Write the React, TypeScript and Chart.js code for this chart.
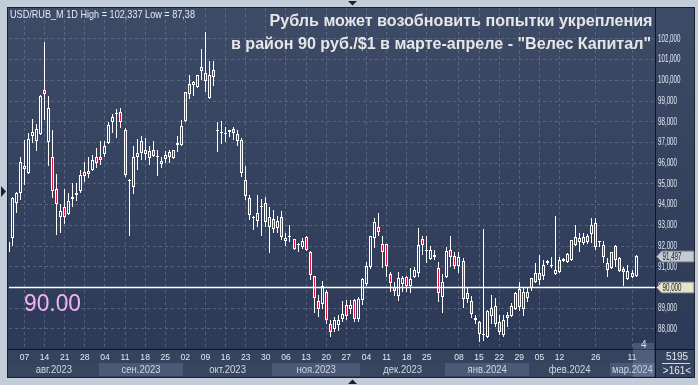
import React, { useEffect, useRef } from "react";
import { Chart, registerables } from "chart.js";

Chart.register(...registerables);

// ---- Data (USD/RUB_M, daily candles, 01.08.2023 – 12.03.2024) ----
const opens = [
  91.73, 92.37, 94.10, 94.55, 95.87, 95.52, 97.29, 97.05, 97.42, 99.55,
  97.00, 96.32, 94.74, 93.42, 93.87, 93.53, 94.26, 94.48, 94.68, 95.55,
  95.48, 95.65, 96.32, 96.32, 96.45, 96.97, 97.97, 98.37, 98.47, 97.61,
  95.15, 94.87, 96.29, 97.08, 96.65, 96.60, 96.65, 96.32, 95.97, 96.40,
  96.52, 96.24, 96.87, 96.87, 98.02, 99.82, 99.79, 99.66, 100.44, 100.35,
  99.15, 100.52, 97.56, 97.45, 97.42, 97.52, 97.66, 97.42, 97.13, 95.19,
  94.34, 93.34, 93.23, 93.87, 94.10, 92.94, 93.29, 92.85, 93.39, 92.26,
  92.42, 92.32, 92.06, 91.97, 92.45, 91.73, 90.55, 89.33, 89.22, 89.79,
  88.24, 88.00, 88.20, 88.46, 89.17, 88.98, 89.41, 88.46, 89.41, 90.15,
  91.00, 92.39, 92.91, 92.11, 92.11, 90.65, 90.00, 89.59, 90.16, 90.52,
  90.08, 90.49, 90.72, 92.36, 91.77, 91.37, 91.48, 90.92, 89.52, 90.52,
  91.81, 91.52, 91.05, 91.27, 89.71, 89.34, 88.53, 88.35, 87.69, 87.61,
  88.63, 89.10, 88.31, 87.69, 88.66, 88.63, 88.95, 89.95, 88.98, 89.47,
  89.98, 90.27, 90.68, 90.56, 91.16, 91.03, 90.63, 90.76, 91.27, 91.24,
  91.35, 92.05, 92.21, 92.16, 92.18, 92.56, 93.13, 92.21, 92.05, 91.19,
  90.92, 92.00, 91.40, 90.87, 90.39, 90.52, 90.56,
];
const highs = [
  92.30, 94.35, 94.63, 96.32, 97.13, 97.45, 98.15, 97.90, 99.30, 101.84,
  99.26, 97.61, 95.48, 94.02, 94.74, 94.55, 95.03, 95.03, 95.65, 96.08,
  96.32, 96.40, 96.73, 97.05, 97.05, 98.00, 98.37, 98.61, 98.66, 97.69,
  95.23, 96.84, 97.16, 97.32, 97.21, 96.81, 97.05, 96.65, 96.32, 96.60,
  96.65, 96.65, 97.32, 98.10, 99.44, 100.27, 99.98, 100.27, 101.52, 102.34,
  100.92, 100.92, 97.97, 98.02, 97.77, 97.61, 97.77, 97.61, 97.21, 95.84,
  94.47, 93.45, 94.44, 94.26, 94.39, 93.90, 93.74, 93.45, 93.71, 92.65,
  93.00, 92.36, 92.16, 92.37, 92.48, 91.77, 90.57, 89.63, 90.31, 89.87,
  88.41, 88.57, 88.65, 89.33, 89.38, 89.38, 89.46, 89.54, 90.44, 91.25,
  92.50, 93.37, 93.61, 92.50, 92.11, 90.76, 90.28, 90.76, 90.57, 90.57,
  90.93, 91.01, 92.85, 92.47, 92.50, 92.00, 91.81, 91.24, 90.63, 91.97,
  92.48, 91.73, 91.73, 91.40, 90.03, 89.58, 88.66, 88.39, 92.81, 88.90,
  89.66, 89.47, 88.68, 88.68, 88.82, 89.23, 89.79, 90.27, 90.03, 90.00,
  90.48, 91.16, 91.56, 91.32, 91.35, 91.48, 93.45, 91.48, 91.43, 91.68,
  92.29, 93.02, 92.61, 92.64, 92.56, 93.34, 93.34, 92.26, 92.24, 91.40,
  91.69, 92.05, 91.45, 90.97, 91.08, 90.84, 91.56,
];
const lows = [
  91.60, 92.00, 93.61, 94.23, 94.95, 95.52, 96.97, 96.60, 97.37, 98.10,
  95.84, 94.31, 92.53, 92.65, 93.06, 93.50, 93.90, 94.15, 94.55, 95.11,
  95.27, 95.60, 95.76, 95.92, 96.32, 96.94, 97.45, 97.21, 97.69, 95.35,
  92.48, 94.50, 95.68, 96.16, 96.16, 95.89, 96.29, 95.40, 95.76, 96.00,
  96.00, 96.24, 96.56, 96.81, 97.97, 99.10, 99.23, 99.63, 100.03, 99.42,
  99.15, 99.71, 96.52, 96.94, 97.00, 97.26, 97.13, 96.81, 95.32, 94.23,
  93.27, 92.77, 92.90, 92.48, 92.94, 91.65, 92.61, 92.61, 92.29, 92.00,
  92.18, 91.81, 91.73, 91.87, 91.78, 90.36, 88.76, 88.57, 88.98, 88.24,
  87.63, 87.87, 87.89, 88.33, 88.41, 88.73, 88.33, 88.33, 89.14, 90.07,
  90.89, 91.90, 92.47, 90.93, 90.49, 89.79, 89.58, 89.33, 89.79, 89.79,
  89.74, 90.44, 90.52, 91.58, 91.17, 91.32, 91.32, 89.31, 88.79, 90.52,
  91.00, 90.87, 90.68, 89.03, 89.23, 88.53, 88.26, 87.38, 87.40, 87.61,
  88.26, 88.10, 87.69, 87.60, 88.10, 88.58, 88.90, 88.87, 88.61, 89.31,
  89.85, 90.27, 90.11, 90.35, 91.08, 90.92, 90.60, 90.76, 91.21, 91.19,
  91.32, 92.05, 91.73, 92.05, 92.08, 92.13, 91.81, 91.94, 91.19, 90.52,
  90.87, 90.99, 90.76, 90.06, 90.35, 90.47, 90.52,
];
const closes = [
  92.21, 94.31, 94.55, 96.08, 95.71, 97.18, 97.50, 97.65, 99.26, 99.32,
  98.66, 94.68, 94.02, 93.69, 93.42, 94.18, 94.39, 94.58, 95.44, 95.40,
  95.60, 96.16, 96.00, 96.13, 96.84, 97.85, 98.23, 98.39, 97.98, 95.44,
  95.17, 96.32, 96.48, 96.48, 96.44, 96.24, 96.37, 96.33, 96.11, 96.19,
  96.29, 96.65, 96.97, 97.81, 99.44, 99.35, 99.90, 100.27, 100.63, 99.98,
  100.27, 100.16, 97.58, 97.47, 97.44, 97.61, 97.45, 97.05, 95.52, 94.42,
  93.50, 93.36, 93.61, 93.94, 93.18, 93.42, 92.81, 93.21, 92.42, 92.37,
  92.44, 91.87, 92.08, 92.26, 91.81, 90.60, 89.51, 88.98, 90.07, 88.41,
  87.87, 88.44, 88.41, 88.73, 88.62, 89.14, 88.46, 89.46, 90.39, 91.06,
  92.50, 93.17, 92.68, 91.71, 91.06, 90.23, 89.84, 90.47, 90.47, 90.08,
  90.41, 90.85, 92.06, 92.03, 91.79, 91.81, 91.55, 89.74, 90.27, 91.76,
  91.45, 91.05, 91.45, 89.42, 89.42, 88.74, 88.42, 87.73, 87.72, 88.85,
  89.03, 88.26, 87.85, 88.42, 88.55, 89.10, 89.71, 89.06, 89.79, 89.79,
  90.44, 90.68, 90.35, 91.08, 91.29, 91.05, 90.84, 91.35, 91.37, 91.61,
  92.29, 92.45, 92.40, 92.45, 92.48, 93.02, 91.97, 92.23, 91.48, 90.84,
  91.69, 91.32, 90.81, 90.74, 90.81, 90.68, 91.50,
];

// Weekly tick marks (bar index of the labelled day) and their labels
const weekTickIndex = [4, 9, 14, 19, 24, 29, 34, 39, 44, 49, 54, 59, 64, 69, 74, 79, 84, 89, 94, 99, 104, 112, 117, 122, 127, 132, 137, 146, 155];
const weekTickLabels = ["07", "14", "21", "28", "04", "11", "18", "25", "02", "09", "16", "23", "30", "06", "13", "20", "27", "04", "11", "18", "25", "08", "15", "22", "29", "05", "12", "26", "11"];
// Month bands (bar index of first trading day) and labels
const monthStartIndex = [0, 23, 44, 66, 88, 109, 130, 150];
const monthLabels = ["авг.2023", "сен.2023", "окт.2023", "ноя.2023", "дек.2023", "янв.2024", "фев.2024", "мар.2024"];
const yTickValues = [88, 89, 90, 91, 92, 93, 94, 95, 96, 97, 98, 99, 100, 101, 102];
const lastPrice = 91.497;
const levelPrice = 90;
const levelLabel = "90.00";
const titleLines = [
  "Рубль может возобновить попытки укрепления",
  "в район 90 руб./$1 в марте-апреле - \"Велес Капитал\"",
];
const infoText = "USD/RUB_M 1D High = 102,337 Low = 87,38";
const barsTotalText = "5195";
const barsVisibleText = ">161<";

const FONT = '"Liberation Sans", Arial, sans-serif';

function fmtPrice(v: number) {
  return v.toFixed(3).replace(".", ",");
}

function textFit(ctx: CanvasRenderingContext2D, text: string, x: number, y: number, width: number, align: CanvasTextAlign) {
  const m = ctx.measureText(text).width;
  const s = m > 0 ? width / m : 1;
  ctx.save();
  ctx.translate(x, y);
  ctx.scale(s, 1);
  ctx.textAlign = align;
  ctx.fillText(text, 0, 0);
  ctx.restore();
}

function textScaled(ctx: CanvasRenderingContext2D, text: string, x: number, y: number, s: number, align: CanvasTextAlign) {
  ctx.save();
  ctx.translate(x, y);
  ctx.scale(s, 1);
  ctx.textAlign = align;
  ctx.fillText(text, 0, 0);
  ctx.restore();
}

// Snap bar elements (computed by Chart.js) onto the pixel grid for crisp candles
const snapPlugin = {
  id: "snap",
  beforeDatasetsDraw(chart: any) {
    chart.data.datasets.forEach((_: any, di: number) => {
      const meta = chart.getDatasetMeta(di);
      meta.data.forEach((el: any) => {
        const w = Math.round(el.width);
        el.x = w % 2 === 1 ? Math.floor(el.x) + 0.5 : Math.round(el.x);
        el.width = w;
        el.y = Math.round(el.y);
        el.base = Math.round(el.base);
        if (el.y === el.base) el.base = el.y + 1;
        el.height = el.base - el.y;
      });
    });
  },
};

const decorPlugin = {
  id: "decor",
  beforeDraw(chart: any) {
    const ctx: CanvasRenderingContext2D = chart.ctx;
    const a = chart.chartArea;
    const xs = chart.scales.x;
    ctx.save();
    ctx.fillStyle = "#c3cdd9";
    ctx.fillRect(0, 0, 698, 385);
    ctx.fillStyle = "#34425e";
    ctx.fillRect(8, 8, 686, 369);
    const g = ctx.createLinearGradient(0, a.top, 0, a.bottom);
    g.addColorStop(0, "#3e4b67");
    g.addColorStop(1, "#2c3a57");
    ctx.fillStyle = g;
    ctx.fillRect(8, a.top, 686, a.bottom - a.top);
    // bottom axis strip
    ctx.fillStyle = "#35435f";
    ctx.fillRect(8, a.bottom, 686, 377 - a.bottom);
    // month bands
    for (let k = 0; k < monthStartIndex.length; k++) {
      const x0 = k === 0 ? 8 : xs.getPixelForValue(monthStartIndex[k] - 0.5);
      const x1 = k + 1 < monthStartIndex.length ? xs.getPixelForValue(monthStartIndex[k + 1] - 0.5) : a.right;
      ctx.fillStyle = k % 2 ? "#4a5976" : "#37465f";
      ctx.fillRect(x0, 363, x1 - x0, 13);
    }
    ctx.restore();
  },
  afterDraw(chart: any) {
    const ctx: CanvasRenderingContext2D = chart.ctx;
    const a = chart.chartArea;
    const xs = chart.scales.x;
    const ys = chart.scales.y;
    ctx.save();

    // level line
    const yl = ys.getPixelForValue(levelPrice);
    ctx.strokeStyle = "#ffffff";
    ctx.lineWidth = 1.5;
    ctx.beginPath();
    ctx.moveTo(a.left, yl);
    ctx.lineTo(a.right, yl);
    ctx.stroke();

    // separators / frame
    ctx.strokeStyle = "#0f1522";
    ctx.lineWidth = 1;
    ctx.beginPath();
    ctx.moveTo(a.right + 0.5, 8);
    ctx.lineTo(a.right + 0.5, 377);
    ctx.moveTo(8, a.bottom + 0.5);
    ctx.lineTo(694, a.bottom + 0.5);
    ctx.stroke();
    ctx.strokeStyle = "#1a2232";
    ctx.strokeRect(7.5, 7.5, 687, 370);

    // y labels
    ctx.textBaseline = "middle";
    ctx.font = `10.5px ${FONT}`;
    ctx.fillStyle = "#e2eaf4";
    const sy = 22.5 / ctx.measureText("102,000").width;
    yTickValues.forEach((v) => {
      textScaled(ctx, fmtPrice(v), a.right + 3, ys.getPixelForValue(v), sy, "left");
    });

    // price tags
    const tag = (v: number, bg: string) => {
      const y = Math.round(ys.getPixelForValue(v)) + 0.5;
      const x0 = a.right + 1.5;
      ctx.beginPath();
      ctx.moveTo(x0, y);
      ctx.lineTo(x0 + 5, y - 5.5);
      ctx.lineTo(694, y - 5.5);
      ctx.lineTo(694, y + 5.5);
      ctx.lineTo(x0 + 5, y + 5.5);
      ctx.closePath();
      ctx.fillStyle = bg;
      ctx.fill();
      ctx.strokeStyle = "#6d7480";
      ctx.lineWidth = 1;
      ctx.stroke();
      ctx.fillStyle = "#141b29";
      textScaled(ctx, fmtPrice(v), x0 + 6, y + 0.5, sy, "left");
    };
    tag(lastPrice, "#c6cad2");
    tag(levelPrice, "#e4e4c8");

    // day labels
    ctx.fillStyle = "#e3e9f2";
    ctx.font = `9.5px ${FONT}`;
    weekTickIndex.forEach((idx, k) => {
      textScaled(ctx, weekTickLabels[k], xs.getPixelForValue(idx), 357.5, 0.9, "center");
    });
    // month labels
    ctx.fillStyle = "#cfd8e6";
    ctx.font = `10px ${FONT}`;
    for (let k = 0; k < monthStartIndex.length; k++) {
      const x0 = k === 0 ? a.left : xs.getPixelForValue(monthStartIndex[k] - 0.5);
      const x1 = k + 1 < monthStartIndex.length ? xs.getPixelForValue(monthStartIndex[k + 1] - 0.5) : a.right;
      textScaled(ctx, monthLabels[k], (x0 + x1) / 2, 370, 0.95, "center");
    }

    // scroll marker box near right edge
    ctx.fillStyle = "rgba(150,165,195,0.28)";
    ctx.fillRect(633, a.bottom - 6, 21, 377 - a.bottom + 6);
    ctx.fillStyle = "#cfe0f5";
    ctx.font = `10px ${FONT}`;
    ctx.textAlign = "left";
    ctx.fillText("4", 641, 345);

    // bottom right counters
    ctx.fillStyle = "#e3e9f2";
    ctx.font = `10px ${FONT}`;
    ctx.textAlign = "center";
    ctx.fillText(barsTotalText, 677, 357);
    ctx.fillText(barsVisibleText, 677, 371);
    ctx.strokeStyle = "#d0d8e4";
    ctx.beginPath();
    ctx.moveTo(662, 363.5);
    ctx.lineTo(690, 363.5);
    ctx.stroke();

    // info text
    ctx.fillStyle = "#e2eaf3";
    ctx.font = `10.5px ${FONT}`;
    textFit(ctx, infoText, 10, 15, 185, "left");

    // title
    ctx.fillStyle = "#e6e6e6";
    ctx.font = `bold 16px ${FONT}`;
    textFit(ctx, titleLines[0], 652.5, 22, 383, "right");
    textFit(ctx, titleLines[1], 651, 44.5, 420, "right");

    // level label
    ctx.fillStyle = "#f3b2f3";
    ctx.font = `23px ${FONT}`;
    textFit(ctx, levelLabel, 24, 305, 57, "left");

    // navigation markers
    ctx.fillStyle = "#1a2232";
    ctx.beginPath();
    ctx.moveTo(1, 186); ctx.lineTo(6, 191.5); ctx.lineTo(1, 197); ctx.closePath();
    ctx.fill();
    ctx.beginPath();
    ctx.moveTo(348, 1); ctx.lineTo(357, 1); ctx.lineTo(352.5, 5.5); ctx.closePath();
    ctx.fill();
    ctx.beginPath();
    ctx.moveTo(348, 384); ctx.lineTo(357, 384); ctx.lineTo(352.5, 379.5); ctx.closePath();
    ctx.fill();

    ctx.restore();
  },
};

export default function App() {
  const ref = useRef<HTMLCanvasElement>(null);
  useEffect(() => {
    const canvas = ref.current;
    if (!canvas) return;
    const idx = opens.map((_, i) => i);
    const bodies = idx.map((i) => ({ x: i, y: [opens[i], closes[i]] }));
    const upper = idx.map((i) => ({ x: i, y: [Math.max(opens[i], closes[i]), Math.max(highs[i], opens[i], closes[i])] }));
    const lower = idx.map((i) => ({ x: i, y: [Math.min(lows[i], opens[i], closes[i]), Math.min(opens[i], closes[i])] }));
    const bodyColors = idx.map((i) => (closes[i] < opens[i] ? "#e3173e" : "rgba(0,0,0,0)"));

    const gridColor = "rgba(112,130,162,0.55)";
    const chart = new Chart(canvas, {
      type: "bar",
      data: {
        datasets: [
          {
            data: bodies as any,
            backgroundColor: bodyColors,
            borderColor: "#ffffff",
            borderWidth: 1,
            borderSkipped: false,
            barThickness: 3,
            minBarLength: 1,
            grouped: false,
            inflateAmount: 0,
            order: 0,
            clip: 0,
          } as any,
          {
            data: upper as any,
            backgroundColor: "#ffffff",
            borderWidth: 0,
            barThickness: 1,
            grouped: false,
            inflateAmount: 0,
            order: 1,
            clip: 0,
          } as any,
          {
            data: lower as any,
            backgroundColor: "#ffffff",
            borderWidth: 0,
            barThickness: 1,
            grouped: false,
            inflateAmount: 0,
            order: 1,
            clip: 0,
          } as any,
        ],
      },
      options: {
        responsive: false,
        devicePixelRatio: 1,
        animation: false,
        events: [],
        layout: { padding: { left: 9, right: 43, top: 8, bottom: 36 } },
        plugins: { legend: { display: false }, tooltip: { enabled: false } },
        scales: {
          x: {
            type: "linear",
            offset: false,
            min: 0.17,
            max: 160.71,
            grid: { color: gridColor, lineWidth: 1, drawTicks: false, offset: false },
            border: { display: false, dash: [3, 3] },
            ticks: { display: false },
            afterBuildTicks: (axis: any) => {
              axis.ticks = weekTickIndex.map((v) => ({ value: v }));
            },
          },
          y: {
            type: "linear",
            position: "right",
            min: 87.03,
            max: 103.49,
            grid: { color: gridColor, lineWidth: 1, drawTicks: false },
            border: { display: false, dash: [3, 3] },
            ticks: { display: false },
            afterBuildTicks: (axis: any) => {
              axis.ticks = yTickValues.map((v) => ({ value: v }));
            },
          },
        },
      } as any,
      plugins: [snapPlugin, decorPlugin],
    });
    return () => chart.destroy();
  }, []);
  return (
    <div style={{ position: "fixed", left: 0, top: 0, width: 698, height: 385 }}>
      <canvas ref={ref} width={698} height={385} style={{ width: 698, height: 385, display: "block" }} />
    </div>
  );
}
